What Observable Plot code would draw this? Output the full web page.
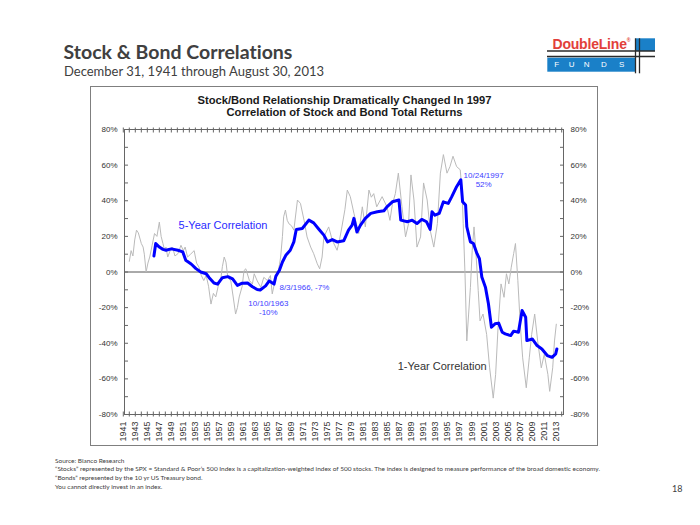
<!DOCTYPE html>
<html><head><meta charset="utf-8">
<script src="https://cdn.jsdelivr.net/npm/d3@7"></script>
<script src="https://cdn.jsdelivr.net/npm/@observablehq/plot@0.6"></script>
<style>
body{margin:0;background:#fff;}
#page{position:relative;width:700px;height:525px;overflow:hidden;background:#fff;font-family:Lato,"Open Sans",sans-serif;color:#404040;font-variant-ligatures:none;font-feature-settings:"liga" 0,"clig" 0;}
.abs{position:absolute;white-space:nowrap;}
#title{left:63.5px;top:41.7px;font-size:19.5px;line-height:1;font-weight:bold;color:#404040;}
#subtitle{left:64px;top:64.5px;font-size:13px;line-height:1;color:#404040;}
#box{position:absolute;left:90px;top:86px;width:506px;height:358px;border:1.5px solid #7f7f7f;}
#chart{position:absolute;left:0;top:0;}
#ctitle{left:91.5px;top:93.5px;width:506px;text-align:center;font-family:"Liberation Sans",Arial,sans-serif;font-weight:bold;font-size:11.2px;line-height:12.6px;color:#1a1a1a;}
#notes{left:55px;top:456.5px;font-size:6.5px;line-height:8.7px;color:#404040;}
#pnum{left:672px;top:483.5px;font-size:9px;line-height:1;color:#404040;}
</style></head><body>
<div id="page">
  <div id="title" class="abs">Stock &amp; Bond Correlations</div>
  <div id="subtitle" class="abs">December 31, 1941 through August 30, 2013</div>
  <svg class="abs" style="left:545px;top:35px" width="120" height="42">
    <rect x="90.5" y="3.3" width="19.5" height="12.7" fill="#1a80c8"/>
    <rect x="2.3" y="22.7" width="88.5" height="14" fill="#1a80c8"/>
    <line x1="2" x2="110" y1="16" y2="16" stroke="#2a2a2a" stroke-width="1.3"/>
    <line x1="2" x2="110" y1="21.5" y2="21.5" stroke="#2a2a2a" stroke-width="1.3"/>
    <line x1="90.5" x2="90.5" y1="3.3" y2="38.3" stroke="#2a2a2a" stroke-width="1.3"/>
    <line x1="94.5" x2="94.5" y1="3.3" y2="38.3" stroke="#2a2a2a" stroke-width="1.3"/>
    <text x="7.5" y="14" font-family="Liberation Sans, Arial, sans-serif" font-weight="bold" font-size="14" fill="#e2403a" letter-spacing="-0.2">DoubleLine<tspan font-size="5" dy="-7">®</tspan></text>
    <g font-family="Liberation Sans, Arial, sans-serif" font-size="8" fill="#fff" text-anchor="middle">
      <text x="11.7" y="32.3">F</text><text x="26.7" y="32.3">U</text><text x="41.7" y="32.3">N</text><text x="59" y="32.3">D</text><text x="76.7" y="32.3">S</text>
    </g>
  </svg>
  <div id="box"><div id="chart"></div></div>
  <div id="ctitle" class="abs">Stock/Bond Relationship Dramatically Changed In 1997<br>Correlation of Stock and Bond Total Returns</div>
  <div id="notes" class="abs">Source: Bianco Research<br>“Stocks” represented by the SPX = Standard &amp; Poor’s 500 Index is a capitalization-weighted index of 500 stocks. The index is designed to measure performance of the broad domestic economy.<br>“Bonds” represented by the 10 yr US Treasury bond.<br>You cannot directly invest in an index.</div>
  <div id="pnum" class="abs">18</div>
</div>
<script>
// ---- data (year, correlation %) ----
const fiveYear = [
 [1946.1,9],[1946.4,16],[1947.0,14],[1947.6,12.7],[1948.1,12.2],[1949.0,13],[1950.1,12.2],[1950.9,11.3],
 [1951.4,6.6],[1952.3,4.5],[1953.1,1.9],[1953.9,0],[1954.8,-1],[1955.3,-3.2],[1956.1,-6.2],[1956.7,-6.8],
 [1957.5,-3.2],[1958.4,-2.6],[1959.2,-3.9],[1960.0,-7.5],[1960.8,-6.3],[1961.7,-6.2],[1962.5,-8.3],[1963.3,-9.8],
 [1963.8,-10.1],[1964.7,-7.8],[1965.3,-5],[1966.1,-6.8],[1966.4,-2.4],[1967.0,1],[1967.5,5.6],[1968.1,9.6],
 [1968.8,12.2],[1969.4,16.9],[1969.8,23.9],[1970.8,24.4],[1971.9,29.1],[1972.7,27.6],[1973.6,23.9],[1974.4,20.7],
 [1975.0,16.9],[1975.8,18.2],[1976.6,16.9],[1977.7,17.5],[1978.5,23.5],[1979.1,26.3],[1979.4,30.1],[1979.9,22.5],
 [1980.5,26.3],[1981.3,30.1],[1982.2,32.9],[1983.3,33.8],[1984.4,34.4],[1984.9,36.6],[1985.8,39.4],[1986.9,40.4],
 [1987.2,29.1],[1988.3,28.2],[1989.1,29.1],[1989.9,27.2],[1990.7,29.5],[1991.5,28.2],[1992.1,23.9],[1992.4,33.8],
 [1992.9,31.9],[1993.6,32.9],[1994.3,39.4],[1995.1,38.5],[1995.7,42.3],[1996.5,47.9],[1997.2,51.8],[1997.5,39.4],
 [1998.0,37.6],[1998.2,25.4],[1998.8,16.9],[1999.3,16],[1999.9,10.3],[2000.3,7.5],[2000.7,-2.8],[2001.3,-8.5],
 [2001.8,-17.8],[2002.3,-31],[2002.9,-29.1],[2003.5,-28.7],[2004.1,-33.8],[2004.6,-34.7],[2005.5,-35.7],[2006.0,-33.2],
 [2006.8,-33.8],[2007.4,-21.6],[2008.0,-25.4],[2008.2,-38.5],[2009.1,-37.6],[2009.9,-41.3],[2010.7,-43.2],[2011.6,-46.9],
 [2012.4,-47.9],[2013.0,-46],[2013.2,-43.2]
];
const oneYear = [
 [1942.0,6],[1942.3,12],[1942.6,9],[1942.9,18],[1943.2,23.5],[1943.5,22],[1944.0,16],[1944.3,14],[1944.5,10],[1944.8,0],[1945.1,5],
 [1945.4,8.4],[1945.8,15],[1946.2,21.6],[1946.6,20],[1947.0,28],[1947.3,20],[1947.6,16],[1947.9,12],[1948.1,14],[1948.4,8.4],
 [1948.8,12],[1949.2,14],[1949.6,9],[1950.1,10.3],[1950.6,15],[1951.0,12],[1951.3,14],[1951.7,8.4],[1952.2,10],[1952.8,12],
 [1953.2,5],[1953.6,2.7],[1954.0,-2],[1954.4,-4.8],[1954.8,-2],[1955.2,-8],[1955.6,-18],[1956.0,-12],[1956.4,-14],
 [1956.8,-8],[1957.2,-4.8],[1957.5,3],[1957.8,8.4],[1958.1,5.5],[1958.4,-3],[1958.9,-5],[1959.3,-14],[1959.7,-23.6],
 [1960.0,-20],[1960.3,-14],[1960.8,-8],[1961.1,0.8],[1961.4,1.8],[1962.0,-4.8],[1962.5,-6.7],[1962.8,-1],[1963.3,-5],
 [1963.9,-8.6],[1964.4,-3],[1965.0,-4.8],[1965.5,-2],[1965.8,-12.3],[1966.2,-6],[1966.7,-1],[1967.0,4],[1967.2,8.4],
 [1967.5,20],[1967.7,31],[1968.0,34.8],[1968.3,29],[1968.6,27],[1969.0,26],[1969.4,23.5],[1970.0,40.4],[1970.5,38.5],
 [1971.1,29],[1971.6,19.7],[1972.2,14],[1972.7,10.3],[1973.3,4.6],[1973.7,1.8],[1974.1,8.4],[1974.4,19.7],[1975.2,25.3],
 [1975.8,17.8],[1976.6,12.2],[1977.0,18],[1977.4,25.3],[1977.9,35],[1978.3,46],[1978.8,42.3],[1979.4,33],[1980.2,21.6],
 [1980.8,36.6],[1981.3,25.3],[1981.9,46],[1982.3,42],[1982.7,44],[1983.2,36.6],[1984.1,42.3],[1984.9,36.6],[1985.4,29],
 [1985.8,38],[1986.3,44],[1986.8,55.5],[1987.4,36.6],[1988.0,19.7],[1988.5,27.2],[1988.9,54.5],[1989.4,40.4],[1989.9,14],
 [1990.5,19.7],[1991.0,50],[1991.6,40.4],[1992.1,23.5],[1992.7,14],[1993.3,27.2],[1993.8,55.5],[1994.3,65.9],[1994.9,55.5],
 [1995.4,59.2],[1995.9,65],[1996.5,59.2],[1997.1,57.4],[1997.4,46],[1997.6,27.2],[1997.9,-1],[1998.2,-38.7],[1998.5,-23.6],
 [1998.8,-8.6],[1999.1,12.2],[1999.4,25.3],[1999.7,12.2],[2000.1,-10.5],[2000.4,-27.4],[2000.9,-23.6],[2001.5,-35],
 [2002.0,-53.8],[2002.6,-70.8],[2003.0,-57.5],[2003.4,-31.2],[2003.9,-6.7],[2004.4,-14.2],[2004.8,-1],[2005.2,-6.7],
 [2005.6,2.7],[2006.0,10.3],[2006.3,16],[2006.7,-4.8],[2007.1,-29.3],[2007.5,-48.2],[2008.1,-65],[2008.6,-48.2],
 [2009.0,-35],[2009.5,-23.6],[2010.0,-38.7],[2010.6,-53.8],[2011.1,-46.2],[2011.7,-57.5],[2012.0,-67],[2012.5,-53.8],
 [2012.8,-38.7],[2013.1,-29.3]
];
const yTickValues = [-80,-60,-40,-20,0,20,40,60,80];
const yMinorTicks = [-70,-50,-30,-10,10,30,50,70];
const xLabelYears = d3.range(1941, 2014, 2);
const xTickYears = d3.range(1941, 2015);
const seriesLabels = [
  {year:1950.2, value:26.3, text:"5-Year Correlation", color:"#2a2aff"},
  {year:1986.7, value:-53.1, text:"1-Year Correlation", color:"#333333"}
];
const centeredNotes = [
  {year:2001.0, value:51.8, text:"10/24/1997\n52%"},
  {year:1965.15, value:-20.0, text:"10/10/1963\n-10%"}
];
const startNotes = [
  {year:1967.0, value:-8.5, text:"8/3/1966, -7%"}
];

const pct = d => d + "%";
const chart = Plot.plot({
  width: 506, height: 358,
  marginLeft: 33, marginRight: 34, marginTop: 42, marginBottom: 31,
  style: {background: "transparent", fontFamily: "'Liberation Sans', Arial, sans-serif", fontSize: "8px", color: "#333"},
  x: {type: "linear", domain: [1941.2, 2014.3], label: null},
  y: {type: "linear", domain: [-80, 80], label: null},
  marks: [
    Plot.ruleY([0], {stroke: "#555", strokeWidth: 1}),
    Plot.line(oneYear, {x: d => d[0], y: d => d[1], stroke: "#bababa", strokeWidth: 1}),
    Plot.line(fiveYear, {x: d => d[0], y: d => d[1], stroke: "#0000ff", strokeWidth: 3, strokeLinejoin: "round"}),
    Plot.frame({stroke: "#666"}),
    Plot.axisY(yTickValues, {anchor: "left", tickSize: 0, tickPadding: 7, tickFormat: pct, fill: "#333", label: null}),
    Plot.axisY(yTickValues, {anchor: "right", tickSize: 0, tickPadding: 7, tickFormat: pct, fill: "#333", label: null}),
    Plot.axisY(yTickValues.concat(yMinorTicks), {anchor: "left", tickSize: 4, dx: 4, fill: "none", stroke: "#666", label: null}),
    Plot.axisY(yTickValues.concat(yMinorTicks), {anchor: "right", tickSize: 4, dx: -4, fill: "none", stroke: "#666", label: null}),
    Plot.axisX(xTickYears, {anchor: "top", tickSize: 5, dy: 2.5, fill: "none", stroke: "#666", label: null}),
    Plot.axisX(xTickYears, {anchor: "bottom", tickSize: 5, dy: -2.5, fill: "none", stroke: "#666", label: null}),
    Plot.axisX(xLabelYears, {anchor: "bottom", tickSize: 0, tickPadding: 7, tickRotate: -90, tickFormat: d => String(d), fontSize: 9, fill: "#333", label: null}),
    Plot.text(seriesLabels, {x: "year", y: "value", text: "text", fill: "color", fontSize: 11, textAnchor: "start"}),
    Plot.text(centeredNotes, {x: "year", y: "value", text: "text", fill: "#4040ff", fontSize: 8, textAnchor: "middle", lineHeight: 1.15}),
    Plot.text(startNotes, {x: "year", y: "value", text: "text", fill: "#4040ff", fontSize: 8, textAnchor: "start"})
  ]
});
document.getElementById("chart").appendChild(chart);
</script>
</body></html>
